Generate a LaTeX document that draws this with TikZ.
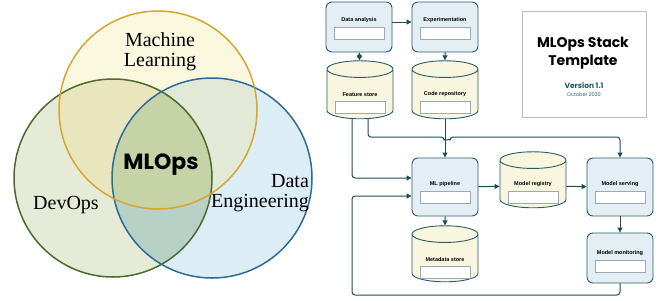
\documentclass[tikz,border=0pt]{standalone}
\usepackage{fontspec}
\setmainfont{Liberation Serif}
\newfontfamily\geofont{Poppins}
\newfontfamily\labfont{Liberation Sans}
\usetikzlibrary{shapes.geometric, arrows.meta, positioning, calc}

\definecolor{edgeteal}{HTML}{2B5C66}
\definecolor{lineteal}{HTML}{1E4D57}
\definecolor{boxblue}{HTML}{E3EEF5}
\definecolor{storeyellow}{HTML}{F8F6DF}
\definecolor{fieldgrey}{HTML}{9AAAB0}
\definecolor{titlegrey}{HTML}{B4C2C6}
\definecolor{versionteal}{HTML}{1F5B63}
\definecolor{mlline}{HTML}{D6A630}
\definecolor{devline}{HTML}{4B6B2B}
\definecolor{deline}{HTML}{2C6A9A}
\definecolor{mlfill}{HTML}{FAF9E0}
\definecolor{devfill}{HTML}{E5EBD6}
\definecolor{defill}{HTML}{DCEDF5}
\definecolor{mldevfill}{HTML}{E9E6BE}
\definecolor{mldefill}{HTML}{E2E9D6}
\definecolor{devdefill}{HTML}{B7D1C6}
\definecolor{allfill}{HTML}{C6D3A6}

\begin{document}
\begin{tikzpicture}[
    x=1pt, y=-1pt,
    box/.style={rectangle, draw=edgeteal, line width=0.9pt, rounded corners=6pt,
                fill=boxblue, minimum width=66pt, minimum height=50pt},
    tallbox/.style={box, minimum height=58pt},
    store/.style={cylinder, shape border rotate=90, draw=edgeteal, line width=0.9pt,
                  fill=storeyellow, aspect=2.5, minimum width=66pt, minimum height=58pt},
    field/.style={rectangle, draw=fieldgrey, line width=0.5pt, fill=white,
                  minimum width=50pt, minimum height=12pt, inner sep=0pt},
    lbl/.style={font=\labfont\bfseries\fontsize{5.5}{6}\selectfont, inner sep=1pt},
    arrow/.style={-{Triangle[length=5pt, width=5pt]}, line width=1pt,
                  draw=lineteal, rounded corners=3pt},
    venn/.style={font=\fontsize{20}{20}\selectfont, align=center, inner sep=0pt},
]
\useasboundingbox (0,0) rectangle (660,300);

% ── Venn diagram ──
\coordinate (mlc) at (158,110);
\coordinate (devc) at (113,178);
\coordinate (dec) at (212,178);

\fill[mlfill] (mlc) circle[radius=99pt];
\fill[devfill] (devc) circle[radius=99pt];
\fill[defill] (dec) circle[radius=100pt];
\begin{scope}
  \clip (mlc) circle[radius=99pt];
  \fill[mldevfill] (devc) circle[radius=99pt];
  \fill[mldefill] (dec) circle[radius=100pt];
\end{scope}
\begin{scope}
  \clip (devc) circle[radius=99pt];
  \fill[devdefill] (dec) circle[radius=100pt];
  \clip (dec) circle[radius=100pt];
  \fill[allfill] (mlc) circle[radius=99pt];
\end{scope}
\draw[devline, line width=1.5pt] (devc) circle[radius=99pt];
\draw[deline, line width=1.5pt] (dec) circle[radius=100pt];
\draw[mlline, line width=1.5pt] (mlc) circle[radius=99pt];

\node[venn] (ml) at (160,52) {Machine\\Learning};
\node[venn] (devops) at (66,205) {DevOps};
\node[venn, align=right] (dataeng) at (260,193) {Data\\Engineering};
\node[font=\geofont\bfseries\fontsize{22}{22}\selectfont, inner sep=0pt] (mlops) at (161,165) {MLOps};

% ── Stack boxes ──
\node[box] (da) at (359,27) {};
\node[box] (ex) at (445,27) {};
\node[store] (fs) at (360,96) {};
\node[store] (cr) at (445,96) {};
\node[tallbox] (mlp) at (445,187) {};
\node[store, minimum height=56pt] (mr) at (533,186) {};
\node[tallbox] (ms) at (620,187) {};
\node[box] (mm) at (620,258) {};
\node[store, minimum height=56pt] (md) at (445,260) {};

% ── Fields and labels ──
\node[field] (dafield) at ($(da.center)+(0,6)$) {};
\node[lbl, above=3pt of dafield] {Data analysis};
\node[field] (exfield) at ($(ex.center)+(0,6)$) {};
\node[lbl, above=3pt of exfield] {Experimentation};
\node[field] (fsfield) at ($(fs.center)+(0,11)$) {};
\node[lbl, above=3pt of fsfield] {Feature store};
\node[field] (crfield) at ($(cr.center)+(0,11)$) {};
\node[lbl, above=3pt of crfield] {Code repository};
\node[field] (mlpfield) at ($(mlp.center)+(0,10)$) {};
\node[lbl, above=3pt of mlpfield] {ML pipeline};
\node[field] (mrfield) at ($(mr.center)+(0,11)$) {};
\node[lbl, above=3pt of mrfield] {Model registry};
\node[field] (msfield) at ($(ms.center)+(0,10)$) {};
\node[lbl, above=3pt of msfield] {Model serving};
\node[field] (mmfield) at ($(mm.center)+(0,8)$) {};
\node[lbl, above=3pt of mmfield] {Model monitoring};
\node[field] (mdfield) at ($(md.center)+(0,12)$) {};
\node[lbl, above=3pt of mdfield] {Metadata store};

% ── Title card ──
\node[draw=titlegrey, line width=0.6pt, minimum width=124pt, minimum height=106pt] (card) at (584,64) {};
\node[font=\geofont\bfseries\fontsize{14}{18}\selectfont, align=center] (ttl) at (583,53) {MLOps Stack\\Template};
\node[font=\geofont\bfseries\fontsize{7.5}{8}\selectfont, text=versionteal, inner sep=0pt] (ver) at (584,86) {Version 1.1};
\node[font=\geofont\fontsize{5}{6}\selectfont, text=versionteal, inner sep=0pt] (date) at (584,95) {October 2020};

% ── Arrows ──
\coordinate (jmp) at (447,137);
\coordinate (loopbl) at (352,295);
\draw[arrow] ([yshift=5pt]da.east) -- ([yshift=5pt]ex.west);
\draw[arrow, {Triangle[length=5pt, width=5pt]}-{Triangle[length=5pt, width=5pt]}] (da) -- (fs);
\draw[arrow] (ex) -- (cr);
\draw[arrow] (cr) -- (mlp);
\draw[arrow] ([xshift=8pt]fs.south) |- ([xshift=-3pt]jmp)
  arc[start angle=180, end angle=360, radius=3pt] -| (ms.north);
\draw[arrow] ([xshift=-8pt]fs.south) |- ([yshift=9pt]mlp.west);
\draw[arrow] (mm.south) |- (loopbl) |- ([yshift=-9pt]mlp.west);
\draw[arrow] (mlp) -- (mr);
\draw[arrow] (mr) -- (ms);
\draw[arrow] (mlp) -- (md);
\draw[arrow] (ms) -- (mm);

\end{tikzpicture}
\end{document}
